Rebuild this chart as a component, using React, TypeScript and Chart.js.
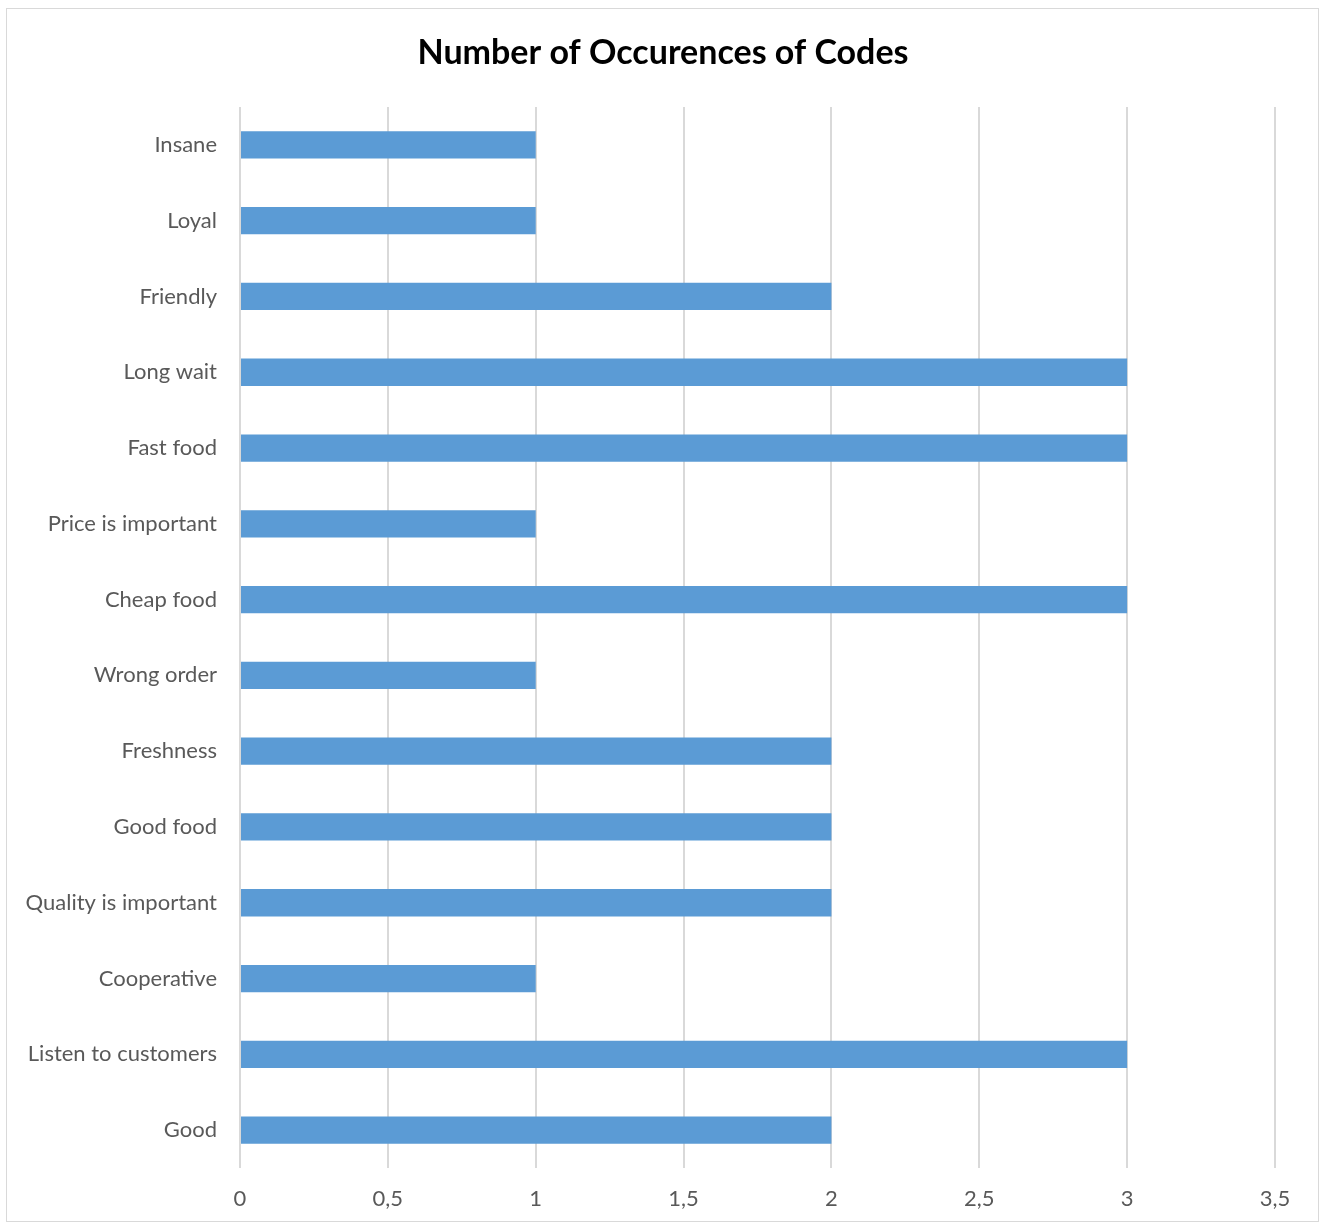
import React, { useEffect, useRef } from "react";
import { Chart, registerables } from "chart.js";

Chart.register(...registerables);

const categories = [
  "Insane",
  "Loyal",
  "Friendly",
  "Long wait",
  "Fast food",
  "Price is important",
  "Cheap food",
  "Wrong order",
  "Freshness",
  "Good food",
  "Quality is important",
  "Cooperative",
  "Listen to customers",
  "Good",
];
const occurrences = [1, 1, 2, 3, 3, 1, 3, 1, 2, 2, 2, 1, 3, 2];
const titleText = "Number of Occurences of Codes";
const xMax = 3.5;
const xStep = 0.5;

const FONT = "Lato, 'Open Sans', sans-serif";

const decor = {
  id: "decor",
  beforeDraw(chart: any) {
    const ctx = chart.ctx;
    ctx.save();
    ctx.fillStyle = "#ffffff";
    ctx.fillRect(0, 0, chart.width, chart.height);
    ctx.strokeStyle = "#d9d9d9";
    ctx.lineWidth = 1;
    ctx.strokeRect(6.5, 8.5, 1312, 1213);
    ctx.restore();
  },
  afterDraw(chart: any) {
    const ctx = chart.ctx;
    ctx.save();
    ctx.fillStyle = "#000000";
    ctx.font = `bold 34px ${FONT}`;
    ctx.textAlign = "center";
    ctx.textBaseline = "middle";
    ctx.fillText(titleText, 663, 53);
    ctx.restore();
  },
};

export default function App() {
  const ref = useRef<HTMLCanvasElement>(null);
  useEffect(() => {
    if (!ref.current) return;
    const chart = new Chart(ref.current, {
      type: "bar",
      data: {
        labels: categories,
        datasets: [
          {
            data: occurrences,
            backgroundColor: "#5b9bd5",
            borderWidth: 0,
            categoryPercentage: 1,
            barPercentage: 0.36,
          },
        ],
      },
      options: {
        indexAxis: "y",
        animation: false,
        responsive: false,
        layout: { padding: { left: 0, right: 47, top: 107, bottom: 0 } },
        plugins: {
          legend: { display: false },
          title: { display: false },
          tooltip: { enabled: false },
        },
        scales: {
          x: {
            min: 0,
            max: xMax,
            ticks: {
              stepSize: xStep,
              color: "#595959",
              font: { family: FONT, size: 22 },
              padding: 18,
              callback: (v: any) => String(v).replace(".", ","),
            },
            grid: { color: "#d9d9d9", lineWidth: 2, drawTicks: false },
            border: { display: false },
            afterFit: (s: any) => {
              s.height = 57;
            },
          },
          y: {
            ticks: {
              color: "#595959",
              font: { family: FONT, size: 22 },
              padding: 23,
            },
            grid: { display: false, drawTicks: false },
            border: { display: false },
            afterFit: (s: any) => {
              s.width = 240;
            },
          },
        },
      },
      plugins: [decor],
    });
    return () => chart.destroy();
  }, []);
  return (
    <canvas
      ref={ref}
      width={1322}
      height={1225}
      style={{ position: "absolute", left: 0, top: 0 }}
    />
  );
}
